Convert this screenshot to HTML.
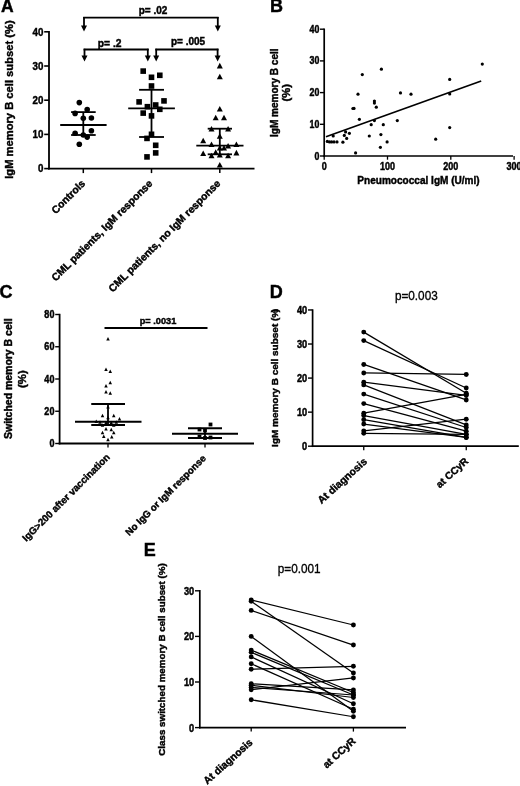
<!DOCTYPE html><html><head><meta charset="utf-8"><title>Figure</title>
<style>html,body{margin:0;padding:0;background:#fff}svg{display:block;will-change:transform;transform:translateZ(0)}text{font-family:"Liberation Sans",sans-serif;fill:#000}</style></head><body>
<svg width="520" height="786" viewBox="0 0 520 786">
<rect width="520" height="786" fill="#fff"/>
<g id="panelA">
<text transform="translate(0.90,12.30)" font-size="17.5" font-weight="bold" text-anchor="start"  stroke="#000" stroke-width="0.42" >A</text>
<line x1="49.00" y1="31.00" x2="49.00" y2="169.50" stroke="#000" stroke-width="1.8" stroke-linecap="butt"/>
<line x1="48.10" y1="168.60" x2="254.50" y2="168.60" stroke="#000" stroke-width="1.8" stroke-linecap="butt"/>
<line x1="44.20" y1="168.60" x2="49.00" y2="168.60" stroke="#000" stroke-width="1.6" stroke-linecap="butt"/>
<text transform="translate(43.40,172.40) scale(0.93,1)" font-size="10.5" font-weight="bold" text-anchor="end"  stroke="#000" stroke-width="0.42" >0</text>
<line x1="44.20" y1="134.40" x2="49.00" y2="134.40" stroke="#000" stroke-width="1.6" stroke-linecap="butt"/>
<text transform="translate(43.40,138.20) scale(0.93,1)" font-size="10.5" font-weight="bold" text-anchor="end"  stroke="#000" stroke-width="0.42" >10</text>
<line x1="44.20" y1="100.20" x2="49.00" y2="100.20" stroke="#000" stroke-width="1.6" stroke-linecap="butt"/>
<text transform="translate(43.40,104.00) scale(0.93,1)" font-size="10.5" font-weight="bold" text-anchor="end"  stroke="#000" stroke-width="0.42" >20</text>
<line x1="44.20" y1="66.00" x2="49.00" y2="66.00" stroke="#000" stroke-width="1.6" stroke-linecap="butt"/>
<text transform="translate(43.40,69.80) scale(0.93,1)" font-size="10.5" font-weight="bold" text-anchor="end"  stroke="#000" stroke-width="0.42" >30</text>
<line x1="44.20" y1="31.80" x2="49.00" y2="31.80" stroke="#000" stroke-width="1.6" stroke-linecap="butt"/>
<text transform="translate(43.40,35.60) scale(0.93,1)" font-size="10.5" font-weight="bold" text-anchor="end"  stroke="#000" stroke-width="0.42" >40</text>
<line x1="83.30" y1="168.60" x2="83.30" y2="173.10" stroke="#000" stroke-width="1.5" stroke-linecap="butt"/>
<line x1="151.50" y1="168.60" x2="151.50" y2="173.10" stroke="#000" stroke-width="1.5" stroke-linecap="butt"/>
<line x1="219.80" y1="168.60" x2="219.80" y2="173.10" stroke="#000" stroke-width="1.5" stroke-linecap="butt"/>
<text transform="translate(12.60,99.60) rotate(-90)" font-size="10.8" font-weight="bold" text-anchor="middle" textLength="158.4" lengthAdjust="spacingAndGlyphs" stroke="#000" stroke-width="0.42" >IgM memory B cell subset (%)</text>
<circle cx="79.30" cy="102.60" r="2.8"/>
<circle cx="87.20" cy="109.60" r="2.8"/>
<circle cx="75.10" cy="113.40" r="2.8"/>
<circle cx="83.30" cy="118.20" r="2.8"/>
<circle cx="91.40" cy="118.00" r="2.8"/>
<circle cx="91.40" cy="130.70" r="2.8"/>
<circle cx="75.10" cy="133.30" r="2.8"/>
<circle cx="83.30" cy="135.00" r="2.8"/>
<circle cx="87.20" cy="137.10" r="2.8"/>
<circle cx="79.30" cy="144.20" r="2.8"/>
<line x1="60.20" y1="125.00" x2="106.60" y2="125.00" stroke="#000" stroke-width="1.8" stroke-linecap="butt"/>
<line x1="71.10" y1="112.10" x2="95.70" y2="112.10" stroke="#000" stroke-width="1.8" stroke-linecap="butt"/>
<line x1="71.10" y1="135.00" x2="95.70" y2="135.00" stroke="#000" stroke-width="1.8" stroke-linecap="butt"/>
<line x1="83.30" y1="112.10" x2="83.30" y2="135.00" stroke="#000" stroke-width="1.8" stroke-linecap="butt"/>
<rect x="140.40" y="68.30" width="5.6" height="5.6"/>
<rect x="157.00" y="72.50" width="5.6" height="5.6"/>
<rect x="148.70" y="74.50" width="5.6" height="5.6"/>
<rect x="148.70" y="83.20" width="5.6" height="5.6"/>
<rect x="136.30" y="99.10" width="5.6" height="5.6"/>
<rect x="161.20" y="98.10" width="5.6" height="5.6"/>
<rect x="152.90" y="102.20" width="5.6" height="5.6"/>
<rect x="144.60" y="103.90" width="5.6" height="5.6"/>
<rect x="157.00" y="106.50" width="5.6" height="5.6"/>
<rect x="140.40" y="110.30" width="5.6" height="5.6"/>
<rect x="148.70" y="113.10" width="5.6" height="5.6"/>
<rect x="148.70" y="131.50" width="5.6" height="5.6"/>
<rect x="144.20" y="135.60" width="5.6" height="5.6"/>
<rect x="152.90" y="142.50" width="5.6" height="5.6"/>
<rect x="152.90" y="150.10" width="5.6" height="5.6"/>
<rect x="144.20" y="154.10" width="5.6" height="5.6"/>
<line x1="128.20" y1="108.30" x2="174.90" y2="108.30" stroke="#000" stroke-width="1.8" stroke-linecap="butt"/>
<line x1="139.10" y1="89.80" x2="164.00" y2="89.80" stroke="#000" stroke-width="1.8" stroke-linecap="butt"/>
<line x1="139.10" y1="137.00" x2="164.00" y2="137.00" stroke="#000" stroke-width="1.8" stroke-linecap="butt"/>
<line x1="151.50" y1="89.80" x2="151.50" y2="137.00" stroke="#000" stroke-width="1.8" stroke-linecap="butt"/>
<polygon points="219.80,62.80 216.80,68.40 222.80,68.40"/>
<polygon points="219.80,73.70 216.80,79.30 222.80,79.30"/>
<polygon points="219.80,106.00 216.80,111.60 222.80,111.60"/>
<polygon points="215.70,114.70 212.70,120.30 218.70,120.30"/>
<polygon points="224.00,114.70 221.00,120.30 227.00,120.30"/>
<polygon points="211.50,125.90 208.50,131.50 214.50,131.50"/>
<polygon points="228.10,125.90 225.10,131.50 231.10,131.50"/>
<polygon points="219.80,133.20 216.80,138.80 222.80,138.80"/>
<polygon points="203.20,137.70 200.20,143.30 206.20,143.30"/>
<polygon points="211.50,141.50 208.50,147.10 214.50,147.10"/>
<polygon points="236.40,141.50 233.40,147.10 239.40,147.10"/>
<polygon points="228.10,142.90 225.10,148.50 231.10,148.50"/>
<polygon points="219.80,145.00 216.80,150.60 222.80,150.60"/>
<polygon points="224.00,145.00 221.00,150.60 227.00,150.60"/>
<polygon points="215.70,149.30 212.70,154.90 218.70,154.90"/>
<polygon points="203.20,150.50 200.20,156.10 206.20,156.10"/>
<polygon points="236.40,149.80 233.40,155.40 239.40,155.40"/>
<polygon points="211.50,152.70 208.50,158.30 214.50,158.30"/>
<polygon points="219.80,151.90 216.80,157.50 222.80,157.50"/>
<polygon points="228.10,152.70 225.10,158.30 231.10,158.30"/>
<polygon points="219.80,161.90 216.80,167.50 222.80,167.50"/>
<line x1="196.30" y1="145.70" x2="243.50" y2="145.70" stroke="#000" stroke-width="1.8" stroke-linecap="butt"/>
<line x1="207.70" y1="128.70" x2="232.00" y2="128.70" stroke="#000" stroke-width="1.8" stroke-linecap="butt"/>
<line x1="207.70" y1="154.30" x2="232.00" y2="154.30" stroke="#000" stroke-width="1.8" stroke-linecap="butt"/>
<line x1="219.80" y1="128.70" x2="219.80" y2="154.30" stroke="#000" stroke-width="1.8" stroke-linecap="butt"/>
<line x1="83.20" y1="17.70" x2="218.60" y2="17.70" stroke="#000" stroke-width="1.8" stroke-linecap="butt"/>
<line x1="84.00" y1="17.00" x2="84.00" y2="26.50" stroke="#000" stroke-width="1.8" stroke-linecap="butt"/>
<polygon points="81.00,25.50 87.00,25.50 84.00,31.50"/>
<line x1="217.80" y1="17.00" x2="217.80" y2="26.50" stroke="#000" stroke-width="1.8" stroke-linecap="butt"/>
<polygon points="214.80,25.50 220.80,25.50 217.80,31.50"/>
<line x1="83.60" y1="49.50" x2="148.70" y2="49.50" stroke="#000" stroke-width="1.8" stroke-linecap="butt"/>
<line x1="84.50" y1="48.80" x2="84.50" y2="56.50" stroke="#000" stroke-width="1.8" stroke-linecap="butt"/>
<polygon points="81.50,55.50 87.50,55.50 84.50,61.50"/>
<line x1="147.80" y1="48.80" x2="147.80" y2="56.50" stroke="#000" stroke-width="1.8" stroke-linecap="butt"/>
<polygon points="144.80,55.50 150.80,55.50 147.80,61.50"/>
<line x1="155.30" y1="49.50" x2="218.50" y2="49.50" stroke="#000" stroke-width="1.8" stroke-linecap="butt"/>
<line x1="156.20" y1="48.80" x2="156.20" y2="56.50" stroke="#000" stroke-width="1.8" stroke-linecap="butt"/>
<polygon points="153.20,55.50 159.20,55.50 156.20,61.50"/>
<line x1="217.60" y1="48.80" x2="217.60" y2="56.50" stroke="#000" stroke-width="1.8" stroke-linecap="butt"/>
<polygon points="214.60,55.50 220.60,55.50 217.60,61.50"/>
<text transform="translate(153.00,13.50)" font-size="10" font-weight="bold" text-anchor="middle"  stroke="#000" stroke-width="0.42" >p= .02</text>
<text transform="translate(109.60,46.50)" font-size="10.3" font-weight="bold" text-anchor="middle"  stroke="#000" stroke-width="0.42" >p= .2</text>
<text transform="translate(188.00,45.00)" font-size="10" font-weight="bold" text-anchor="middle"  stroke="#000" stroke-width="0.42" >p= .005</text>
<text transform="translate(85.90,184.20) rotate(-45)" font-size="10.4" font-weight="bold" text-anchor="end"  stroke="#000" stroke-width="0.42" >Controls</text>
<text transform="translate(153.20,184.20) rotate(-45)" font-size="10.4" font-weight="bold" text-anchor="end"  stroke="#000" stroke-width="0.42" >CML patients, IgM response</text>
<text transform="translate(221.20,184.20) rotate(-45)" font-size="10.4" font-weight="bold" text-anchor="end"  stroke="#000" stroke-width="0.42" >CML patients, no IgM response</text>
</g>
<g id="panelB">
<text transform="translate(269.90,12.30)" font-size="18" font-weight="bold" text-anchor="start"  stroke="#000" stroke-width="0.42" >B</text>
<line x1="324.20" y1="28.50" x2="324.20" y2="156.85" stroke="#000" stroke-width="1.7" stroke-linecap="butt"/>
<line x1="323.35" y1="156.00" x2="513.00" y2="156.00" stroke="#000" stroke-width="1.7" stroke-linecap="butt"/>
<line x1="320.00" y1="156.00" x2="324.20" y2="156.00" stroke="#000" stroke-width="1.4" stroke-linecap="butt"/>
<text transform="translate(319.40,159.50) scale(0.93,1.1)" font-size="9.5" font-weight="bold" text-anchor="end"  stroke="#000" stroke-width="0.42" >0</text>
<line x1="320.00" y1="124.30" x2="324.20" y2="124.30" stroke="#000" stroke-width="1.4" stroke-linecap="butt"/>
<text transform="translate(319.40,127.80) scale(0.93,1.1)" font-size="9.5" font-weight="bold" text-anchor="end"  stroke="#000" stroke-width="0.42" >10</text>
<line x1="320.00" y1="92.60" x2="324.20" y2="92.60" stroke="#000" stroke-width="1.4" stroke-linecap="butt"/>
<text transform="translate(319.40,96.10) scale(0.93,1.1)" font-size="9.5" font-weight="bold" text-anchor="end"  stroke="#000" stroke-width="0.42" >20</text>
<line x1="320.00" y1="60.90" x2="324.20" y2="60.90" stroke="#000" stroke-width="1.4" stroke-linecap="butt"/>
<text transform="translate(319.40,64.40) scale(0.93,1.1)" font-size="9.5" font-weight="bold" text-anchor="end"  stroke="#000" stroke-width="0.42" >30</text>
<line x1="320.00" y1="29.20" x2="324.20" y2="29.20" stroke="#000" stroke-width="1.4" stroke-linecap="butt"/>
<text transform="translate(319.40,32.70) scale(0.93,1.1)" font-size="9.5" font-weight="bold" text-anchor="end"  stroke="#000" stroke-width="0.42" >40</text>
<line x1="324.20" y1="156.00" x2="324.20" y2="159.70" stroke="#000" stroke-width="1.3" stroke-linecap="butt"/>
<text transform="translate(324.20,170.10) scale(0.95,1.1)" font-size="9.5" font-weight="bold" text-anchor="middle"  stroke="#000" stroke-width="0.42" >0</text>
<line x1="387.50" y1="156.00" x2="387.50" y2="159.70" stroke="#000" stroke-width="1.3" stroke-linecap="butt"/>
<text transform="translate(387.50,170.10) scale(0.95,1.1)" font-size="9.5" font-weight="bold" text-anchor="middle"  stroke="#000" stroke-width="0.42" >100</text>
<line x1="450.80" y1="156.00" x2="450.80" y2="159.70" stroke="#000" stroke-width="1.3" stroke-linecap="butt"/>
<text transform="translate(450.80,170.10) scale(0.95,1.1)" font-size="9.5" font-weight="bold" text-anchor="middle"  stroke="#000" stroke-width="0.42" >200</text>
<line x1="514.10" y1="156.00" x2="514.10" y2="159.70" stroke="#000" stroke-width="1.3" stroke-linecap="butt"/>
<text transform="translate(514.10,170.10) scale(0.95,1.1)" font-size="9.5" font-weight="bold" text-anchor="middle"  stroke="#000" stroke-width="0.42" >300</text>
<text transform="translate(418.50,183.60)" font-size="10.2" font-weight="bold" text-anchor="middle" textLength="122.3" lengthAdjust="spacingAndGlyphs" stroke="#000" stroke-width="0.42" >Pneumococcal IgM (U/ml)</text>
<text transform="translate(278.10,92.70) rotate(-90)" font-size="10.2" font-weight="bold" text-anchor="middle" textLength="88.6" lengthAdjust="spacingAndGlyphs" stroke="#000" stroke-width="0.42" >IgM memory B cell</text>
<text transform="translate(290.20,92.80) rotate(-90)" font-size="11.2" font-weight="bold" text-anchor="middle"  stroke="#000" stroke-width="0.42" >(%)</text>
<circle cx="327.30" cy="141.40" r="1.6"/>
<circle cx="329.50" cy="141.90" r="1.6"/>
<circle cx="331.60" cy="141.90" r="1.6"/>
<circle cx="334.00" cy="141.90" r="1.6"/>
<circle cx="337.00" cy="141.90" r="1.6"/>
<circle cx="333.20" cy="136.00" r="1.6"/>
<circle cx="342.90" cy="142.20" r="1.6"/>
<circle cx="344.30" cy="135.40" r="1.6"/>
<circle cx="346.70" cy="138.40" r="1.6"/>
<circle cx="345.60" cy="131.90" r="1.6"/>
<circle cx="349.40" cy="133.30" r="1.6"/>
<circle cx="352.90" cy="108.50" r="1.6"/>
<circle cx="354.00" cy="108.40" r="1.6"/>
<circle cx="355.60" cy="152.90" r="1.6"/>
<circle cx="358.00" cy="94.20" r="1.6"/>
<circle cx="359.40" cy="119.30" r="1.6"/>
<circle cx="362.30" cy="74.60" r="1.6"/>
<circle cx="369.30" cy="136.00" r="1.6"/>
<circle cx="371.20" cy="124.70" r="1.6"/>
<circle cx="374.40" cy="101.00" r="1.6"/>
<circle cx="374.40" cy="103.10" r="1.6"/>
<circle cx="376.30" cy="107.20" r="1.6"/>
<circle cx="374.40" cy="120.60" r="1.6"/>
<circle cx="380.40" cy="147.30" r="1.6"/>
<circle cx="380.90" cy="134.60" r="1.6"/>
<circle cx="381.40" cy="69.20" r="1.6"/>
<circle cx="383.30" cy="124.70" r="1.6"/>
<circle cx="387.10" cy="141.90" r="1.6"/>
<circle cx="397.30" cy="120.60" r="1.6"/>
<circle cx="400.50" cy="92.90" r="1.6"/>
<circle cx="482.30" cy="64.10" r="1.6"/>
<circle cx="449.70" cy="79.40" r="1.6"/>
<circle cx="449.70" cy="94.00" r="1.6"/>
<circle cx="411.00" cy="94.20" r="1.6"/>
<circle cx="449.70" cy="127.60" r="1.6"/>
<circle cx="435.70" cy="139.20" r="1.6"/>
<line x1="326.00" y1="136.70" x2="481.20" y2="81.00" stroke="#000" stroke-width="1.7" stroke-linecap="butt"/>
</g>
<g id="panelC">
<text transform="translate(-0.60,298.30)" font-size="18" font-weight="bold" text-anchor="start"  stroke="#000" stroke-width="0.42" >C</text>
<line x1="59.60" y1="313.80" x2="59.60" y2="444.40" stroke="#000" stroke-width="1.8" stroke-linecap="butt"/>
<line x1="58.70" y1="443.50" x2="254.00" y2="443.50" stroke="#000" stroke-width="1.8" stroke-linecap="butt"/>
<line x1="55.20" y1="443.50" x2="59.60" y2="443.50" stroke="#000" stroke-width="1.4" stroke-linecap="butt"/>
<text transform="translate(54.40,447.20) scale(0.97,1.13)" font-size="9.3" font-weight="bold" text-anchor="end"  stroke="#000" stroke-width="0.42" >0</text>
<line x1="55.20" y1="411.25" x2="59.60" y2="411.25" stroke="#000" stroke-width="1.4" stroke-linecap="butt"/>
<text transform="translate(54.40,414.95) scale(0.97,1.13)" font-size="9.3" font-weight="bold" text-anchor="end"  stroke="#000" stroke-width="0.42" >20</text>
<line x1="55.20" y1="379.00" x2="59.60" y2="379.00" stroke="#000" stroke-width="1.4" stroke-linecap="butt"/>
<text transform="translate(54.40,382.70) scale(0.97,1.13)" font-size="9.3" font-weight="bold" text-anchor="end"  stroke="#000" stroke-width="0.42" >40</text>
<line x1="55.20" y1="346.75" x2="59.60" y2="346.75" stroke="#000" stroke-width="1.4" stroke-linecap="butt"/>
<text transform="translate(54.40,350.45) scale(0.97,1.13)" font-size="9.3" font-weight="bold" text-anchor="end"  stroke="#000" stroke-width="0.42" >60</text>
<line x1="55.20" y1="314.50" x2="59.60" y2="314.50" stroke="#000" stroke-width="1.4" stroke-linecap="butt"/>
<text transform="translate(54.40,318.20) scale(0.97,1.13)" font-size="9.3" font-weight="bold" text-anchor="end"  stroke="#000" stroke-width="0.42" >80</text>
<line x1="108.00" y1="443.50" x2="108.00" y2="447.50" stroke="#000" stroke-width="1.3" stroke-linecap="butt"/>
<line x1="205.00" y1="443.50" x2="205.00" y2="447.50" stroke="#000" stroke-width="1.3" stroke-linecap="butt"/>
<text transform="translate(12.00,378.70) rotate(-90)" font-size="10.3" font-weight="bold" text-anchor="middle" textLength="120.5" lengthAdjust="spacingAndGlyphs" stroke="#000" stroke-width="0.42" >Switched memory B cell</text>
<text transform="translate(25.80,379.10) rotate(-90)" font-size="11.4" font-weight="bold" text-anchor="middle"  stroke="#000" stroke-width="0.42" >(%)</text>
<polygon points="108.00,337.10 106.25,340.40 109.75,340.40"/>
<polygon points="106.00,367.60 104.25,370.90 107.75,370.90"/>
<polygon points="110.25,369.60 108.50,372.90 112.00,372.90"/>
<polygon points="110.25,380.85 108.50,384.15 112.00,384.15"/>
<polygon points="106.00,384.10 104.25,387.40 107.75,387.40"/>
<polygon points="106.00,390.10 104.25,393.40 107.75,393.40"/>
<polygon points="110.25,391.35 108.50,394.65 112.00,394.65"/>
<polygon points="108.00,405.10 106.25,408.40 109.75,408.40"/>
<polygon points="102.50,413.85 100.75,417.15 104.25,417.15"/>
<polygon points="113.75,413.85 112.00,417.15 115.50,417.15"/>
<polygon points="108.00,415.85 106.25,419.15 109.75,419.15"/>
<polygon points="119.50,417.10 117.75,420.40 121.25,420.40"/>
<polygon points="96.25,419.60 94.50,422.90 98.00,422.90"/>
<polygon points="100.00,420.35 98.25,423.65 101.75,423.65"/>
<polygon points="106.00,420.85 104.25,424.15 107.75,424.15"/>
<polygon points="111.25,420.85 109.50,424.15 113.00,424.15"/>
<polygon points="116.25,420.35 114.50,423.65 118.00,423.65"/>
<polygon points="102.50,423.35 100.75,426.65 104.25,426.65"/>
<polygon points="113.75,423.35 112.00,426.65 115.50,426.65"/>
<polygon points="106.00,427.10 104.25,430.40 107.75,430.40"/>
<polygon points="111.25,427.85 109.50,431.15 113.00,431.15"/>
<polygon points="102.50,430.85 100.75,434.15 104.25,434.15"/>
<polygon points="113.75,430.85 112.00,434.15 115.50,434.15"/>
<polygon points="103.75,434.60 102.00,437.90 105.50,437.90"/>
<polygon points="111.75,435.10 110.00,438.40 113.50,438.40"/>
<polygon points="108.00,437.85 106.25,441.15 109.75,441.15"/>
<line x1="75.00" y1="421.75" x2="141.50" y2="421.75" stroke="#000" stroke-width="1.8" stroke-linecap="butt"/>
<line x1="91.25" y1="404.00" x2="125.00" y2="404.00" stroke="#000" stroke-width="1.8" stroke-linecap="butt"/>
<line x1="91.25" y1="425.00" x2="125.00" y2="425.00" stroke="#000" stroke-width="1.8" stroke-linecap="butt"/>
<line x1="108.00" y1="404.00" x2="108.00" y2="425.00" stroke="#000" stroke-width="1.8" stroke-linecap="butt"/>
<line x1="104.50" y1="328.00" x2="207.50" y2="328.00" stroke="#000" stroke-width="2.0" stroke-linecap="butt"/>
<text transform="translate(158.00,323.80)" font-size="9.2" font-weight="bold" text-anchor="middle" textLength="36.5" lengthAdjust="spacingAndGlyphs" stroke="#000" stroke-width="0.42" >p= .0031</text>
<rect x="208.60" y="422.60" width="3.8" height="3.8"/>
<rect x="197.60" y="427.60" width="3.8" height="3.8"/>
<rect x="203.10" y="428.60" width="3.8" height="3.8"/>
<rect x="197.60" y="434.85" width="3.8" height="3.8"/>
<rect x="203.10" y="436.10" width="3.8" height="3.8"/>
<rect x="208.60" y="435.60" width="3.8" height="3.8"/>
<line x1="172.00" y1="433.75" x2="238.00" y2="433.75" stroke="#000" stroke-width="1.8" stroke-linecap="butt"/>
<line x1="188.00" y1="428.25" x2="222.00" y2="428.25" stroke="#000" stroke-width="1.8" stroke-linecap="butt"/>
<line x1="188.00" y1="438.00" x2="222.00" y2="438.00" stroke="#000" stroke-width="1.8" stroke-linecap="butt"/>
<line x1="205.00" y1="428.25" x2="205.00" y2="438.00" stroke="#000" stroke-width="1.8" stroke-linecap="butt"/>
<text transform="translate(110.50,457.80) rotate(-45)" font-size="9.8" font-weight="bold" text-anchor="end"  stroke="#000" stroke-width="0.42" >IgG&gt;200 after vaccination</text>
<text transform="translate(206.50,459.00) rotate(-45)" font-size="9.7" font-weight="bold" text-anchor="end"  stroke="#000" stroke-width="0.42" >No IgG or IgM response</text>
</g>
<g id="panelD">
<text transform="translate(269.80,298.10)" font-size="18" font-weight="bold" text-anchor="start"  stroke="#000" stroke-width="0.42" >D</text>
<line x1="312.60" y1="309.30" x2="312.60" y2="447.05" stroke="#000" stroke-width="1.7" stroke-linecap="butt"/>
<line x1="311.75" y1="446.20" x2="518.80" y2="446.20" stroke="#000" stroke-width="1.7" stroke-linecap="butt"/>
<line x1="308.00" y1="446.20" x2="312.60" y2="446.20" stroke="#000" stroke-width="1.4" stroke-linecap="butt"/>
<text transform="translate(307.20,450.10) scale(0.97,1.17)" font-size="9.5" font-weight="bold" text-anchor="end"  stroke="#000" stroke-width="0.42" >0</text>
<line x1="308.00" y1="412.14" x2="312.60" y2="412.14" stroke="#000" stroke-width="1.4" stroke-linecap="butt"/>
<text transform="translate(307.20,416.04) scale(0.97,1.17)" font-size="9.5" font-weight="bold" text-anchor="end"  stroke="#000" stroke-width="0.42" >10</text>
<line x1="308.00" y1="378.08" x2="312.60" y2="378.08" stroke="#000" stroke-width="1.4" stroke-linecap="butt"/>
<text transform="translate(307.20,381.98) scale(0.97,1.17)" font-size="9.5" font-weight="bold" text-anchor="end"  stroke="#000" stroke-width="0.42" >20</text>
<line x1="308.00" y1="344.02" x2="312.60" y2="344.02" stroke="#000" stroke-width="1.4" stroke-linecap="butt"/>
<text transform="translate(307.20,347.92) scale(0.97,1.17)" font-size="9.5" font-weight="bold" text-anchor="end"  stroke="#000" stroke-width="0.42" >30</text>
<line x1="308.00" y1="309.96" x2="312.60" y2="309.96" stroke="#000" stroke-width="1.4" stroke-linecap="butt"/>
<text transform="translate(307.20,313.86) scale(0.97,1.17)" font-size="9.5" font-weight="bold" text-anchor="end"  stroke="#000" stroke-width="0.42" >40</text>
<line x1="363.75" y1="446.20" x2="363.75" y2="450.20" stroke="#000" stroke-width="1.3" stroke-linecap="butt"/>
<line x1="466.25" y1="446.20" x2="466.25" y2="450.20" stroke="#000" stroke-width="1.3" stroke-linecap="butt"/>
<text transform="translate(278.30,377.85) rotate(-90)" font-size="9.9" font-weight="bold" text-anchor="middle" textLength="138.1" lengthAdjust="spacingAndGlyphs" stroke="#000" stroke-width="0.42" >IgM memory B cell subset (%</text>
<text transform="translate(278.30,312.30) rotate(-90)" font-size="9.9" font-weight="bold" text-anchor="start"  stroke="#000" stroke-width="0.42" >)</text>
<text transform="translate(416.30,299.60) scale(1,1.14)" font-size="11.5"  text-anchor="middle" textLength="42.8" lengthAdjust="spacingAndGlyphs" stroke="#000" stroke-width="0.3" >p=0.003</text>
<line x1="363.75" y1="332.10" x2="466.25" y2="393.20" stroke="#000" stroke-width="1.25" stroke-linecap="butt"/>
<circle cx="363.75" cy="332.10" r="2.45"/>
<circle cx="466.25" cy="393.20" r="2.45"/>
<line x1="363.75" y1="340.61" x2="466.25" y2="387.96" stroke="#000" stroke-width="1.25" stroke-linecap="butt"/>
<circle cx="363.75" cy="340.61" r="2.45"/>
<circle cx="466.25" cy="387.96" r="2.45"/>
<line x1="363.75" y1="364.46" x2="466.25" y2="399.95" stroke="#000" stroke-width="1.25" stroke-linecap="butt"/>
<circle cx="363.75" cy="364.46" r="2.45"/>
<circle cx="466.25" cy="399.95" r="2.45"/>
<line x1="363.75" y1="372.97" x2="466.25" y2="374.47" stroke="#000" stroke-width="1.25" stroke-linecap="butt"/>
<circle cx="363.75" cy="372.97" r="2.45"/>
<circle cx="466.25" cy="374.47" r="2.45"/>
<line x1="363.75" y1="382.17" x2="466.25" y2="395.45" stroke="#000" stroke-width="1.25" stroke-linecap="butt"/>
<circle cx="363.75" cy="382.17" r="2.45"/>
<circle cx="466.25" cy="395.45" r="2.45"/>
<line x1="363.75" y1="384.89" x2="466.25" y2="424.95" stroke="#000" stroke-width="1.25" stroke-linecap="butt"/>
<circle cx="363.75" cy="384.89" r="2.45"/>
<circle cx="466.25" cy="424.95" r="2.45"/>
<line x1="363.75" y1="394.09" x2="466.25" y2="427.47" stroke="#000" stroke-width="1.25" stroke-linecap="butt"/>
<circle cx="363.75" cy="394.09" r="2.45"/>
<circle cx="466.25" cy="427.47" r="2.45"/>
<line x1="363.75" y1="403.62" x2="466.25" y2="431.21" stroke="#000" stroke-width="1.25" stroke-linecap="butt"/>
<circle cx="363.75" cy="403.62" r="2.45"/>
<circle cx="466.25" cy="431.21" r="2.45"/>
<line x1="363.75" y1="413.16" x2="466.25" y2="394.43" stroke="#000" stroke-width="1.25" stroke-linecap="butt"/>
<circle cx="363.75" cy="413.16" r="2.45"/>
<circle cx="466.25" cy="394.43" r="2.45"/>
<line x1="363.75" y1="415.55" x2="466.25" y2="434.45" stroke="#000" stroke-width="1.25" stroke-linecap="butt"/>
<circle cx="363.75" cy="415.55" r="2.45"/>
<circle cx="466.25" cy="434.45" r="2.45"/>
<line x1="363.75" y1="419.63" x2="466.25" y2="437.45" stroke="#000" stroke-width="1.25" stroke-linecap="butt"/>
<circle cx="363.75" cy="419.63" r="2.45"/>
<circle cx="466.25" cy="437.45" r="2.45"/>
<line x1="363.75" y1="424.06" x2="466.25" y2="437.45" stroke="#000" stroke-width="1.25" stroke-linecap="butt"/>
<circle cx="363.75" cy="424.06" r="2.45"/>
<circle cx="466.25" cy="437.45" r="2.45"/>
<line x1="363.75" y1="430.87" x2="466.25" y2="419.19" stroke="#000" stroke-width="1.25" stroke-linecap="butt"/>
<circle cx="363.75" cy="430.87" r="2.45"/>
<circle cx="466.25" cy="419.19" r="2.45"/>
<line x1="363.75" y1="433.26" x2="466.25" y2="434.45" stroke="#000" stroke-width="1.25" stroke-linecap="butt"/>
<circle cx="363.75" cy="433.26" r="2.45"/>
<circle cx="466.25" cy="434.45" r="2.45"/>
<text transform="translate(367.80,462.50) rotate(-42)" font-size="10.4" font-weight="bold" text-anchor="end"  stroke="#000" stroke-width="0.42" >At diagnosis</text>
<text transform="translate(468.90,462.20) rotate(-42)" font-size="10.1" font-weight="bold" text-anchor="end"  stroke="#000" stroke-width="0.42" >at CCyR</text>
</g>
<g id="panelE">
<text transform="translate(143.70,555.80)" font-size="18" font-weight="bold" text-anchor="start"  stroke="#000" stroke-width="0.42" >E</text>
<line x1="199.80" y1="590.00" x2="199.80" y2="728.45" stroke="#000" stroke-width="1.7" stroke-linecap="butt"/>
<line x1="198.95" y1="727.60" x2="406.00" y2="727.60" stroke="#000" stroke-width="1.7" stroke-linecap="butt"/>
<line x1="195.00" y1="727.60" x2="199.80" y2="727.60" stroke="#000" stroke-width="1.4" stroke-linecap="butt"/>
<text transform="translate(194.20,731.50) scale(0.97,1.18)" font-size="9.5" font-weight="bold" text-anchor="end"  stroke="#000" stroke-width="0.42" >0</text>
<line x1="195.00" y1="682.00" x2="199.80" y2="682.00" stroke="#000" stroke-width="1.4" stroke-linecap="butt"/>
<text transform="translate(194.20,685.90) scale(0.97,1.18)" font-size="9.5" font-weight="bold" text-anchor="end"  stroke="#000" stroke-width="0.42" >10</text>
<line x1="195.00" y1="636.40" x2="199.80" y2="636.40" stroke="#000" stroke-width="1.4" stroke-linecap="butt"/>
<text transform="translate(194.20,640.30) scale(0.97,1.18)" font-size="9.5" font-weight="bold" text-anchor="end"  stroke="#000" stroke-width="0.42" >20</text>
<line x1="195.00" y1="590.80" x2="199.80" y2="590.80" stroke="#000" stroke-width="1.4" stroke-linecap="butt"/>
<text transform="translate(194.20,594.70) scale(0.97,1.18)" font-size="9.5" font-weight="bold" text-anchor="end"  stroke="#000" stroke-width="0.42" >30</text>
<line x1="251.20" y1="727.60" x2="251.20" y2="731.60" stroke="#000" stroke-width="1.3" stroke-linecap="butt"/>
<line x1="353.40" y1="727.60" x2="353.40" y2="731.60" stroke="#000" stroke-width="1.3" stroke-linecap="butt"/>
<text transform="translate(165.10,659.50) rotate(-90)" font-size="9.8" font-weight="bold" text-anchor="middle" textLength="192.5" lengthAdjust="spacingAndGlyphs" stroke="#000" stroke-width="0.42" >Class switched memory B cell subset (%)</text>
<text transform="translate(299.20,572.50) scale(1,1.14)" font-size="11.5"  text-anchor="middle" textLength="42.8" lengthAdjust="spacingAndGlyphs" stroke="#000" stroke-width="0.3" >p=0.001</text>
<line x1="251.20" y1="599.92" x2="353.40" y2="625.00" stroke="#000" stroke-width="1.25" stroke-linecap="butt"/>
<circle cx="251.20" cy="599.92" r="2.45"/>
<circle cx="353.40" cy="625.00" r="2.45"/>
<line x1="251.20" y1="601.29" x2="353.40" y2="673.02" stroke="#000" stroke-width="1.25" stroke-linecap="butt"/>
<circle cx="251.20" cy="601.29" r="2.45"/>
<circle cx="353.40" cy="673.02" r="2.45"/>
<line x1="251.20" y1="610.41" x2="353.40" y2="645.06" stroke="#000" stroke-width="1.25" stroke-linecap="butt"/>
<circle cx="251.20" cy="610.41" r="2.45"/>
<circle cx="353.40" cy="645.06" r="2.45"/>
<line x1="251.20" y1="636.40" x2="353.40" y2="711.28" stroke="#000" stroke-width="1.25" stroke-linecap="butt"/>
<circle cx="251.20" cy="636.40" r="2.45"/>
<circle cx="353.40" cy="711.28" r="2.45"/>
<line x1="251.20" y1="650.08" x2="353.40" y2="692.49" stroke="#000" stroke-width="1.25" stroke-linecap="butt"/>
<circle cx="251.20" cy="650.08" r="2.45"/>
<circle cx="353.40" cy="692.49" r="2.45"/>
<line x1="251.20" y1="652.36" x2="353.40" y2="695.00" stroke="#000" stroke-width="1.25" stroke-linecap="butt"/>
<circle cx="251.20" cy="652.36" r="2.45"/>
<circle cx="353.40" cy="695.00" r="2.45"/>
<line x1="251.20" y1="656.92" x2="353.40" y2="703.75" stroke="#000" stroke-width="1.25" stroke-linecap="butt"/>
<circle cx="251.20" cy="656.92" r="2.45"/>
<circle cx="353.40" cy="703.75" r="2.45"/>
<line x1="251.20" y1="663.76" x2="353.40" y2="709.27" stroke="#000" stroke-width="1.25" stroke-linecap="butt"/>
<circle cx="251.20" cy="663.76" r="2.45"/>
<circle cx="353.40" cy="709.27" r="2.45"/>
<line x1="251.20" y1="669.23" x2="353.40" y2="666.27" stroke="#000" stroke-width="1.25" stroke-linecap="butt"/>
<circle cx="251.20" cy="669.23" r="2.45"/>
<circle cx="353.40" cy="666.27" r="2.45"/>
<line x1="251.20" y1="683.82" x2="353.40" y2="689.98" stroke="#000" stroke-width="1.25" stroke-linecap="butt"/>
<circle cx="251.20" cy="683.82" r="2.45"/>
<circle cx="353.40" cy="689.98" r="2.45"/>
<line x1="251.20" y1="685.19" x2="353.40" y2="697.50" stroke="#000" stroke-width="1.25" stroke-linecap="butt"/>
<circle cx="251.20" cy="685.19" r="2.45"/>
<circle cx="353.40" cy="697.50" r="2.45"/>
<line x1="251.20" y1="687.47" x2="353.40" y2="695.00" stroke="#000" stroke-width="1.25" stroke-linecap="butt"/>
<circle cx="251.20" cy="687.47" r="2.45"/>
<circle cx="353.40" cy="695.00" r="2.45"/>
<line x1="251.20" y1="689.75" x2="353.40" y2="677.99" stroke="#000" stroke-width="1.25" stroke-linecap="butt"/>
<circle cx="251.20" cy="689.75" r="2.45"/>
<circle cx="353.40" cy="677.99" r="2.45"/>
<line x1="251.20" y1="699.78" x2="353.40" y2="716.75" stroke="#000" stroke-width="1.25" stroke-linecap="butt"/>
<circle cx="251.20" cy="699.78" r="2.45"/>
<circle cx="353.40" cy="716.75" r="2.45"/>
<text transform="translate(253.20,743.40) rotate(-42)" font-size="10.3" font-weight="bold" text-anchor="end"  stroke="#000" stroke-width="0.42" >At diagnosis</text>
<text transform="translate(356.40,742.00) rotate(-42)" font-size="10.3" font-weight="bold" text-anchor="end"  stroke="#000" stroke-width="0.42" >at CCyR</text>
</g>
</svg></body></html>
